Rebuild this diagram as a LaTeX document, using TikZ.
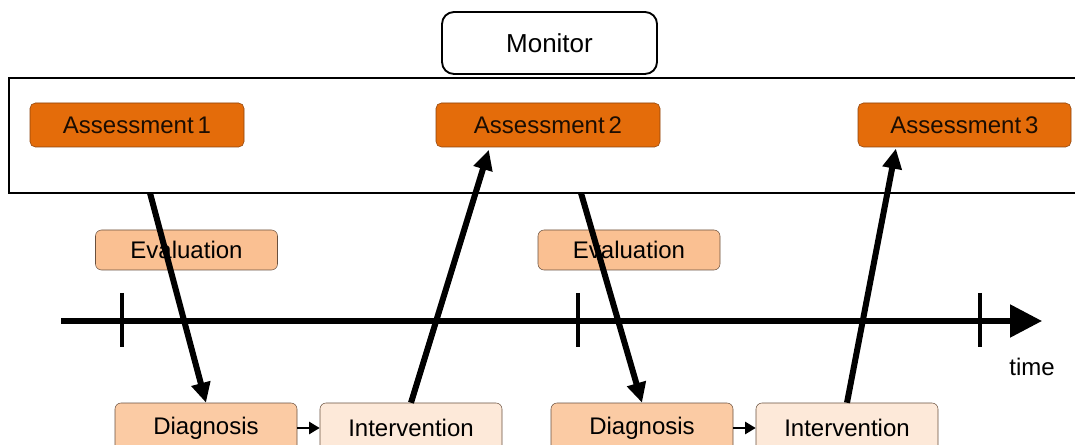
\documentclass[tikz,border=0pt]{standalone}
\usepackage{fontspec}
\setmainfont{Liberation Sans}
\usetikzlibrary{arrows.meta,calc}
\definecolor{assessorange}{RGB}{228,108,10}
\definecolor{assessline}{RGB}{140,66,12}
\definecolor{evalfill}{RGB}{250,192,146}
\definecolor{diagfill}{RGB}{251,203,164}
\definecolor{intfill}{RGB}{253,233,217}
\definecolor{boxline}{RGB}{105,80,62}

\begin{document}
\begin{tikzpicture}[x=0.75pt,y=-0.75pt,
    assess/.style={draw=assessline, fill=assessorange, rounded corners=4pt,
      minimum height=33pt, inner sep=0pt, text=black!80!assessline,
      font=\fontsize{18}{20}\selectfont},
    stagebox/.style={draw=boxline, rounded corners=4.5pt, minimum width=136.5pt,
      inner sep=0pt, font=\fontsize{18}{20}\selectfont},
    bigarrow/.style={line width=4.5pt, -{Triangle[length=15pt,width=14pt]}},
    smallarrow/.style={line width=2.2pt, -{Triangle[length=8pt,width=9pt]}}]
    \useasboundingbox (0,0) rectangle (1075,445);

    % Monitor panel, open at the right edge
    \draw[line width=1.9pt] (1080,78) -- (9,78) -- (9,193) -- (1080,193);
    \node[draw, line width=1.4pt, rounded corners=9pt, fill=white,
      minimum width=161.25pt, minimum height=46.5pt, inner sep=0pt,
      font=\fontsize{19.5}{22}\selectfont] (monitor) at (549.5,43) {Monitor};

    % Assessments inside the panel
    \node[assess, minimum width=160.5pt] (ass1) at (137,125) {Assessment\,1};
    \node[assess, minimum width=168pt] (ass2) at (548,125) {Assessment\,2};
    \node[assess, minimum width=159.75pt] (ass3) at (964.5,125) {Assessment\,3};

    % Evaluation boxes
    \node[stagebox, fill=evalfill, minimum height=30pt] (eval1) at (186.5,250) {Evaluation};
    \node[stagebox, fill=evalfill, minimum height=30pt] (eval2) at (629,250) {Evaluation};

    % Diagnosis and intervention boxes
    \node[stagebox, fill=diagfill, minimum height=37.5pt] (diag1) at (206,428) {Diagnosis};
    \node[stagebox, fill=intfill, minimum height=37.5pt] (int1) at (411,428) {Intervention};
    \node[stagebox, fill=diagfill, minimum height=37.5pt] (diag2) at (642,428) {Diagnosis};
    \node[stagebox, fill=intfill, minimum height=37.5pt] (int2) at (847,428) {Intervention};

    % Time axis with ticks
    \coordinate (tstart) at (61,321);
    \coordinate (tend) at (1042,321);
    \draw[line width=4pt, -{Triangle[length=24pt,width=24pt]}] (tstart) -- (tend);
    \foreach \tx in {122,578,980}
      \draw[line width=2.6pt] (\tx,293) -- (\tx,347);
    \node[font=\fontsize{18}{20}\selectfont] (time) at (1032,367) {time};

    % Outputs of the panel
    \coordinate (out1) at (150,193);
    \coordinate (out2) at (581,193);
    \draw[bigarrow] (out1) -- (diag1.north);
    \draw[bigarrow] (out2) -- (diag2.north);

    % Interventions feed the next assessment
    \draw[bigarrow, shorten >=2pt] (int1.north) -- ($(ass2.south west)!0.24!(ass2.south east)$);
    \draw[bigarrow, shorten >=1pt] (int2.north) -- ($(ass3.south west)!0.18!(ass3.south east)$);

    % Diagnosis leads to intervention
    \draw[smallarrow] (diag1.east) -- (int1.west);
    \draw[smallarrow] (diag2.east) -- (int2.west);
  \end{tikzpicture}
\end{document}
